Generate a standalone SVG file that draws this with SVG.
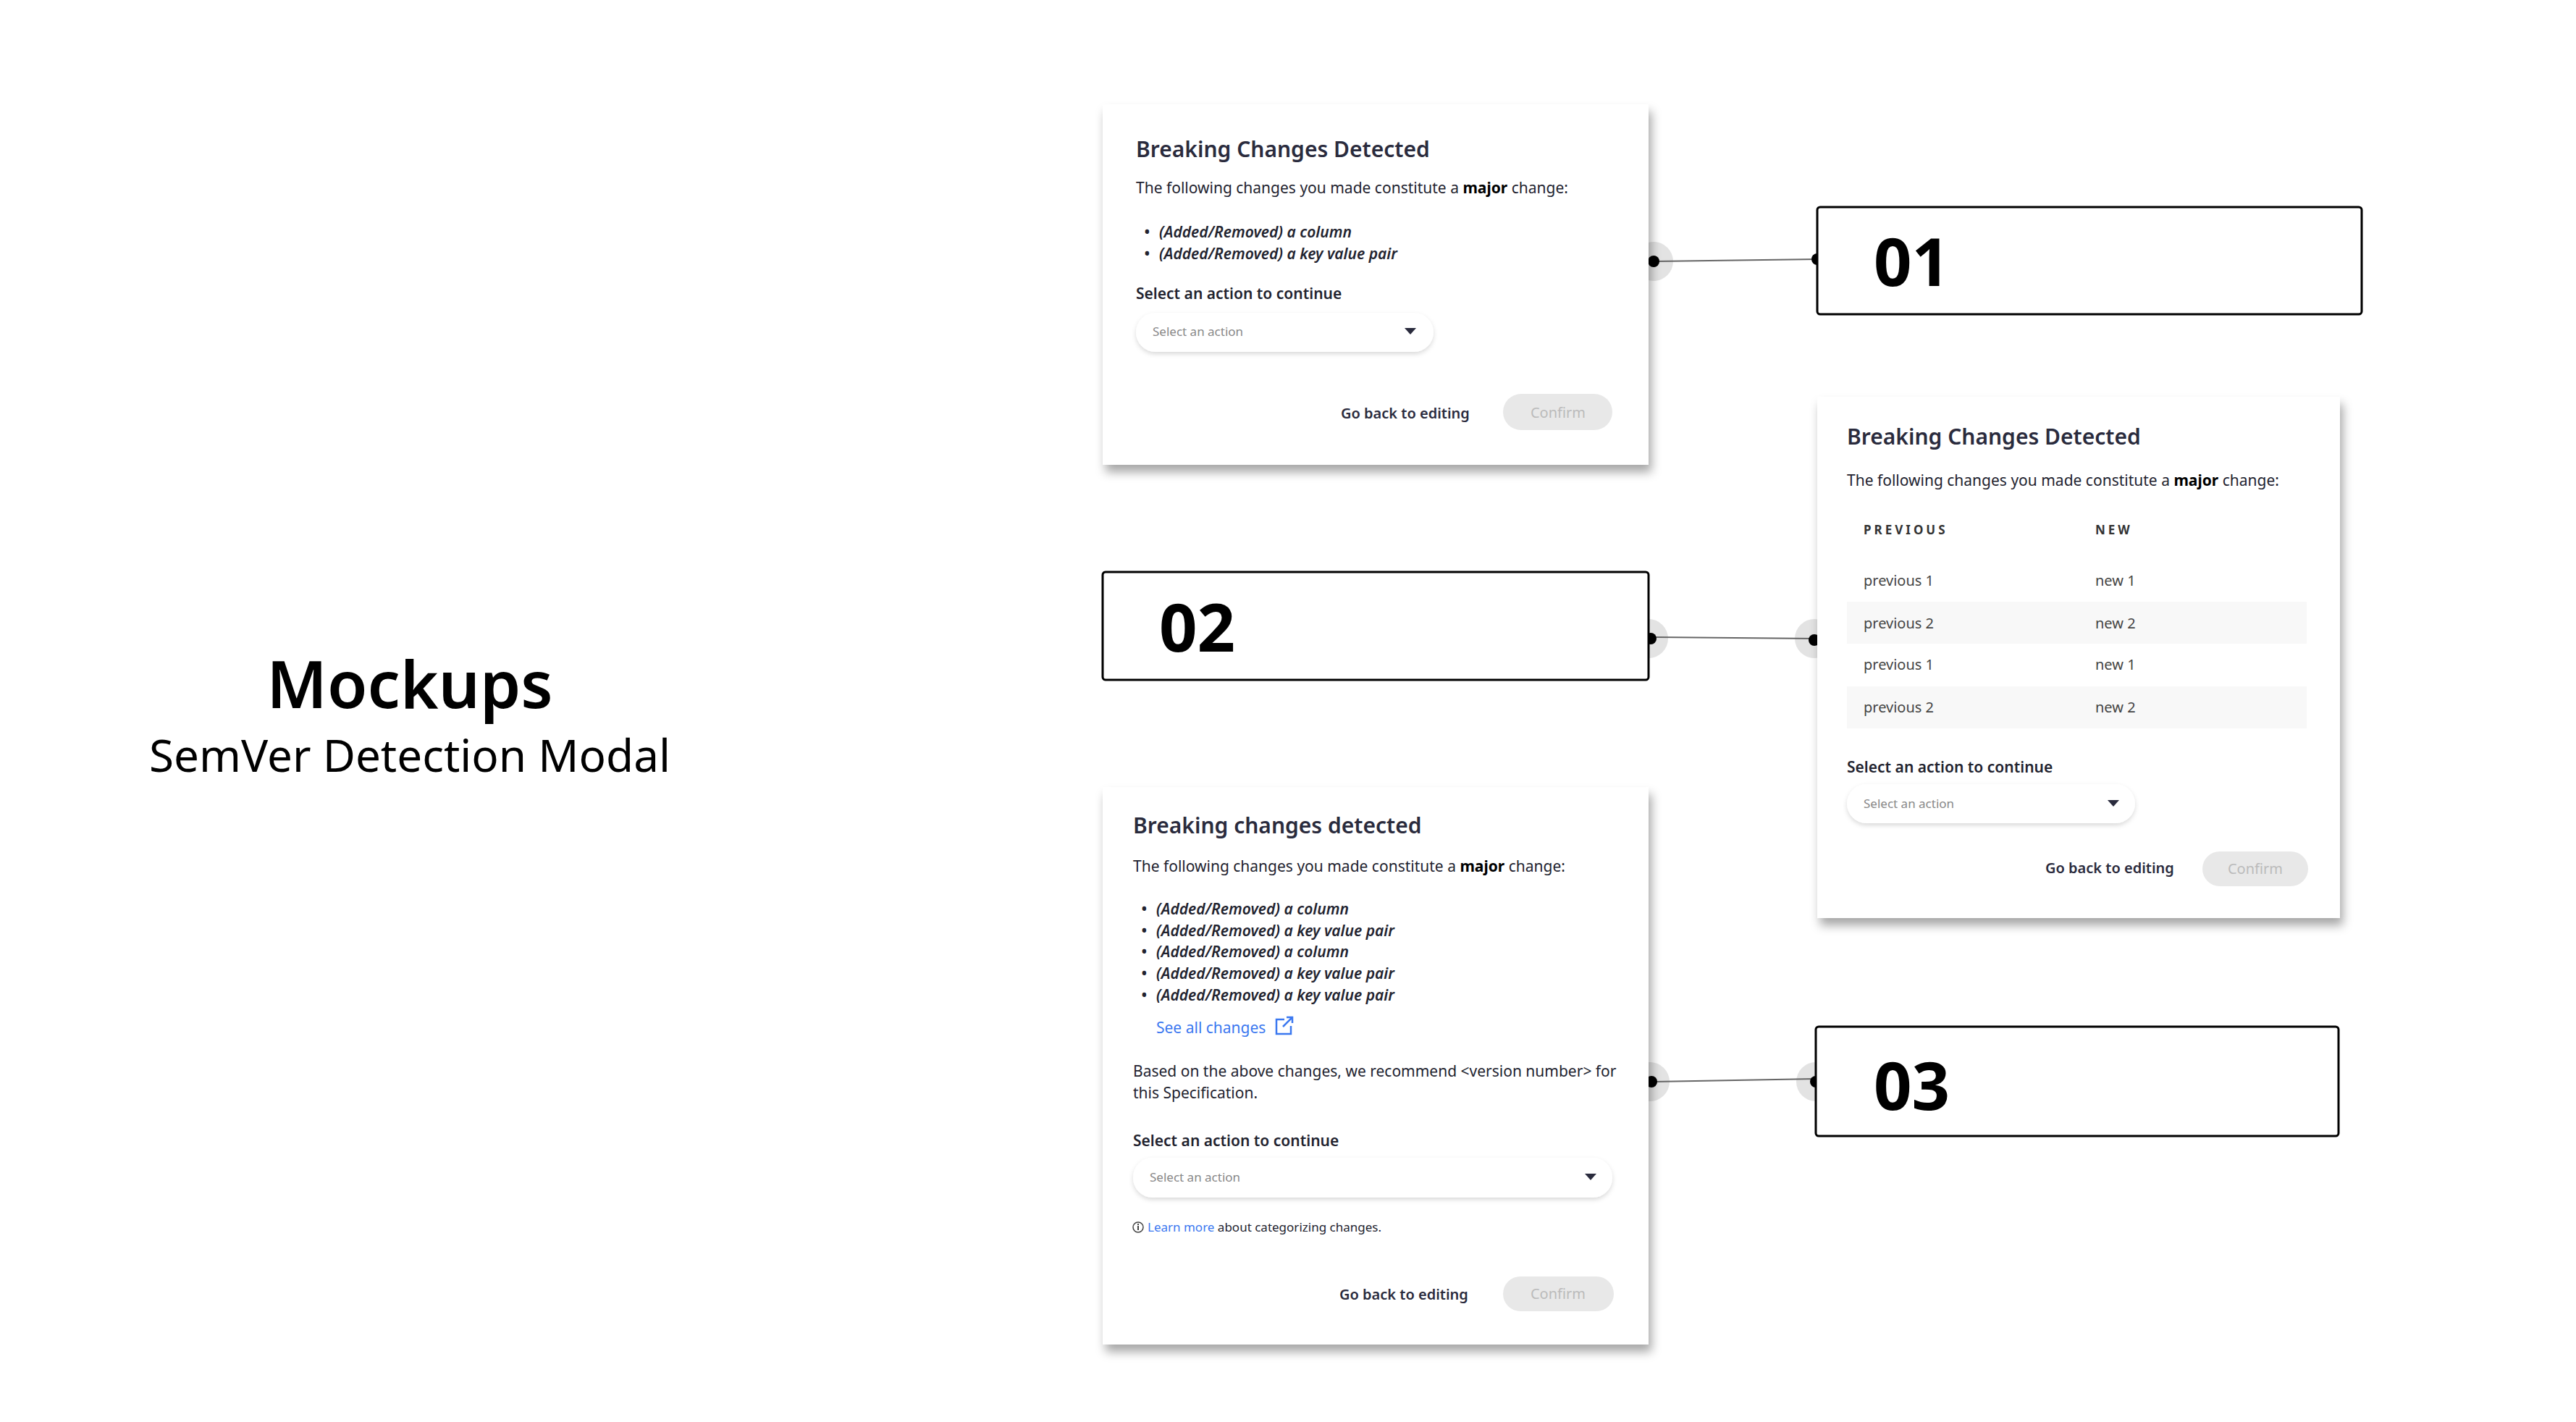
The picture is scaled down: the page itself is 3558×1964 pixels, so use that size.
<svg xmlns="http://www.w3.org/2000/svg" width="3558" height="1964" viewBox="0 0 3558 1964">
<defs>
<filter id="sh" x="-5%" y="-5%" width="112%" height="115%"><feDropShadow dx="4" dy="10" stdDeviation="7" flood-color="#000" flood-opacity="0.35"/></filter>
<filter id="dsh" x="-5%" y="-30%" width="110%" height="170%"><feDropShadow dx="0" dy="3" stdDeviation="3" flood-color="#000" flood-opacity="0.15"/></filter>
</defs>
<style>
text{font-family:"Noto Sans","Open Sans",sans-serif;fill:#22232f}
.t{font-size:30px;font-weight:600;fill:#2a2b3d}
.s{font-size:21px}
.b{font-size:21px;font-weight:600;font-style:italic}
.l{font-size:21px;font-weight:600}
.ph{font-size:17px;fill:#888}
.g{font-size:20px;font-weight:600;fill:#2a2b3d}
.c{font-size:20px;fill:#bbb;text-anchor:middle}
.m{fill:#fff;filter:url(#sh)}
.dd{fill:#fff;filter:url(#dsh)}
.cb{fill:#e8e8e8}
.box{fill:#fff;stroke:#000;stroke-width:3}
.num{font-size:92px;font-weight:700;fill:#000}
.halo{fill:#e3e3e3}
.dot{fill:#000}
.ln{stroke:#666;stroke-width:2;fill:none}
.th{font-size:17px;font-weight:700;letter-spacing:4px;fill:#333}
.r{font-size:20px;fill:#444}
.blue{fill:#3b78f0}
</style>
<rect width="3558" height="1964" fill="#fff"/>
<g id="title">
<text x="566" y="978" text-anchor="middle" style="font-size:90px;font-weight:600;fill:#000">Mockups</text>
<text x="566" y="1066" text-anchor="middle" style="font-size:62px;fill:#000">SemVer Detection Modal</text>
</g>
<g id="connectors">
<circle class="halo" cx="2284" cy="361" r="27"/>
<line class="ln" x1="2284" y1="361" x2="2510" y2="358"/>
<circle class="dot" cx="2284" cy="361" r="8"/>
<circle class="dot" cx="2510" cy="358" r="8"/>
<circle class="halo" cx="2277" cy="882" r="27"/>
<circle class="halo" cx="2506" cy="882" r="27"/>
<line class="ln" x1="2277" y1="880" x2="2506" y2="882"/>
<circle class="dot" cx="2280" cy="882" r="8"/>
<circle class="dot" cx="2506" cy="884" r="8"/>
<circle class="halo" cx="2279" cy="1494" r="27"/>
<circle class="halo" cx="2508" cy="1494" r="27"/>
<line class="ln" x1="2280" y1="1494" x2="2508" y2="1490"/>
<circle class="dot" cx="2281" cy="1494" r="8"/>
<circle class="dot" cx="2508" cy="1494" r="8"/>
</g>
<g id="box01"><rect class="box" x="2510" y="286" width="752" height="148" rx="4"/><text class="num" x="2588" y="395">01</text></g>
<g id="box02"><rect class="box" x="1523" y="790" width="754" height="149" rx="4"/><text class="num" x="1601" y="900">02</text></g>
<g id="box03"><rect class="box" x="2508" y="1418" width="722" height="151" rx="4"/><text class="num" x="2588" y="1533">03</text></g>
<g id="modal1">
<rect class="m" x="1523" y="144" width="754" height="498"/>
<text class="t" x="1569" y="217">Breaking Changes Detected</text>
<text class="s" x="1569" y="267">The following changes you made constitute a <tspan font-weight="700" fill="#000">major</tspan> change:</text>
<text class="b" x="1580" y="328">•</text><text class="b" x="1601" y="328">(Added/Removed) a column</text>
<text class="b" x="1580" y="358">•</text><text class="b" x="1601" y="358">(Added/Removed) a key value pair</text>
<text class="l" x="1569" y="413">Select an action to continue</text>
<rect class="dd" x="1569" y="432" width="411" height="54" rx="27"/>
<text class="ph" x="1592" y="464">Select an action</text>
<path d="M1940 453h16l-8 9z" fill="#2a2b3d"/>
<text class="g" x="1852" y="578">Go back to editing</text>
<rect class="cb" x="2076" y="544" width="151" height="50" rx="25"/>
<text class="c" x="2152" y="577">Confirm</text>
</g>
<g id="modal2">
<rect class="m" x="2510" y="548" width="722" height="720"/>
<text class="t" x="2551" y="614">Breaking Changes Detected</text>
<text class="s" x="2551" y="671">The following changes you made constitute a <tspan font-weight="700" fill="#000">major</tspan> change:</text>
<text class="th" x="2574" y="738">PREVIOUS</text><text class="th" x="2894" y="738">NEW</text>
<rect x="2551" y="831" width="635" height="58" fill="#f8f8f8"/>
<rect x="2551" y="948" width="635" height="58" fill="#f8f8f8"/>
<text class="r" x="2574" y="809">previous 1</text><text class="r" x="2894" y="809">new 1</text>
<text class="r" x="2574" y="868">previous 2</text><text class="r" x="2894" y="868">new 2</text>
<text class="r" x="2574" y="925">previous 1</text><text class="r" x="2894" y="925">new 1</text>
<text class="r" x="2574" y="984">previous 2</text><text class="r" x="2894" y="984">new 2</text>
<text class="l" x="2551" y="1067">Select an action to continue</text>
<rect class="dd" x="2551" y="1083" width="398" height="54" rx="27"/>
<text class="ph" x="2574" y="1116">Select an action</text>
<path d="M2911 1105h16l-8 9z" fill="#2a2b3d"/>
<text class="g" x="2825" y="1206">Go back to editing</text>
<rect class="cb" x="3042" y="1176" width="146" height="48" rx="24"/>
<text class="c" x="3115" y="1207">Confirm</text>
</g>
<g id="modal3">
<rect class="m" x="1523" y="1087" width="754" height="770"/>
<text class="t" x="1565" y="1151">Breaking changes detected</text>
<text class="s" x="1565" y="1204">The following changes you made constitute a <tspan font-weight="700" fill="#000">major</tspan> change:</text>
<text class="b" x="1576" y="1263">•</text><text class="b" x="1597" y="1263">(Added/Removed) a column</text>
<text class="b" x="1576" y="1293">•</text><text class="b" x="1597" y="1293">(Added/Removed) a key value pair</text>
<text class="b" x="1576" y="1322">•</text><text class="b" x="1597" y="1322">(Added/Removed) a column</text>
<text class="b" x="1576" y="1352">•</text><text class="b" x="1597" y="1352">(Added/Removed) a key value pair</text>
<text class="b" x="1576" y="1382">•</text><text class="b" x="1597" y="1382">(Added/Removed) a key value pair</text>
<text class="s blue" x="1597" y="1427">See all changes</text>
<g fill="none" stroke="#3b78f0" stroke-width="2.5"><path d="M1774 1408h-11v20h20v-11"/><path d="M1772 1418l13-13M1777 1405h8v8"/></g>
<text class="s" x="1565" y="1487">Based on the above changes, we recommend &lt;version number&gt; for</text>
<text class="s" x="1565" y="1517">this Specification.</text>
<text class="l" x="1565" y="1583">Select an action to continue</text>
<rect class="dd" x="1565" y="1599" width="662" height="55" rx="27"/>
<text class="ph" x="1588" y="1632">Select an action</text>
<path d="M2189 1621h16l-8 9z" fill="#2a2b3d"/>
<circle cx="1572" cy="1695" r="7" fill="none" stroke="#444" stroke-width="1.5"/>
<rect x="1571" y="1693" width="2" height="6" fill="#444"/><rect x="1571" y="1690" width="2" height="2" fill="#444"/>
<text style="font-size:17px" x="1585" y="1701"><tspan class="blue">Learn more</tspan> about categorizing changes.</text>
<text class="g" x="1850" y="1795">Go back to editing</text>
<rect class="cb" x="2076" y="1763" width="153" height="48" rx="24"/>
<text class="c" x="2152" y="1794">Confirm</text>
</g>
</svg>
